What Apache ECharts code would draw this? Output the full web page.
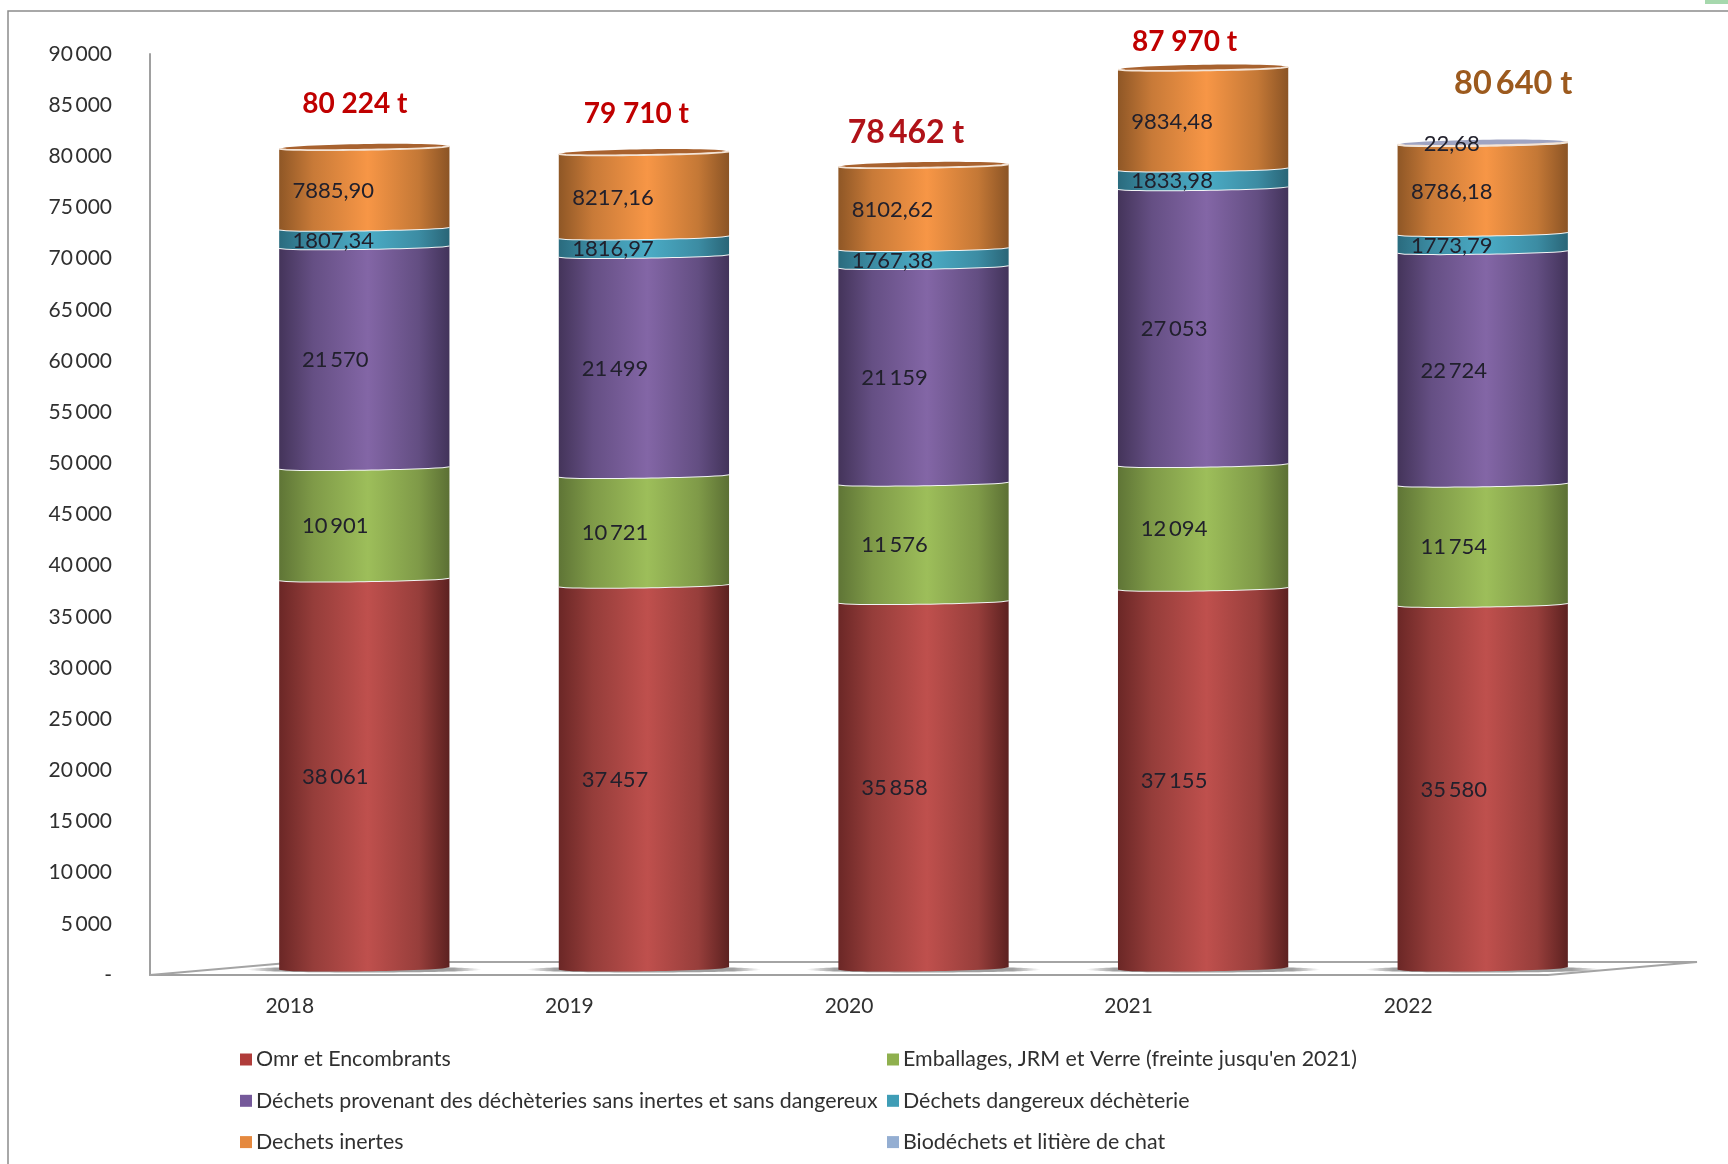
<!DOCTYPE html>
<html><head><meta charset="utf-8">
<style>html,body{margin:0;padding:0;background:#fff}#c{width:1728px;height:1164px}</style>
<script src="https://cdn.jsdelivr.net/npm/echarts@6/dist/echarts.min.js"></script>
</head><body><div id="c"></div>
<script>
const years = ['2018','2019','2020','2021','2022'];
const omr = [38061,37457,35858,37155,35580];
const emballages = [10901,10721,11576,12094,11754];
const decheteries = [21570,21499,21159,27053,22724];
const dangereux = [1807.34,1816.97,1767.38,1833.98,1773.79];
const inertes = [7885.90,8217.16,8102.62,9834.48,8786.18];
const biodechets = [0,0,0,0,22.68];
const totals = [80224,79710,78462,87970,80640];

const FONT = 'Lato, "Open Sans", sans-serif';
const names = ['Omr et Encombrants',"Emballages, JRM et Verre (freinte jusqu'en 2021)",
 'Déchets provenant des déchèteries sans inertes et sans dangereux','Déchets dangereux déchèterie','Dechets inertes','Biodéchets et litière de chat'];
const values = [omr,emballages,decheteries,dangereux,inertes,biodechets];
const decimals = [false,false,false,true,true,true];
const palette = [
 ['#6b2726','#953d3a','#bf504d','#973e3b','#5c2120'],
 ['#5f7536','#7f9a48','#9dbe5a','#7f9a48','#5c7034'],
 ['#44345a','#654f84','#8366a6','#634e82','#42335a'],
 ['#2a6b7e','#3c8ca3','#4bacc6','#3c8ca3','#296577'],
 ['#8f5726','#c87a38','#f79646','#c47836','#8b5425'],
 ['#6f84a8','#8ea3c8','#a6b6d8','#8ea3c8','#6f84a8']];
const legendColors = ['#b03c3a','#8fb04e','#75599a','#3f9db6','#e5893f','#94aed2'];
const capColors = ['#a8622f','#a8622f','#a8622f','#a8622f','#9fa4c2'];

const DEPTH_X = 0.2665, BAR_W = 0.3045, BASE_DY = -6.5, LABEL_DX = -29;
const SLOPE = 1.3, BULGE = 2.2;
const group = (v,sep) => String(Math.round(v)).replace(/\B(?=(\d{3})+$)/g,sep);
const fmtInt = v => group(v,'\u2009');
const fmtDec = v => v.toFixed(2).replace('.',',');

function arc(cx,hw,y,bulge,reverse){
  const pts=[];
  for(let i=0;i<=24;i++){
    const t=-1+i/12;
    pts.push([cx+t*hw, y - t*SLOPE + bulge*Math.sqrt(Math.max(0,1-t*t))]);
  }
  return reverse?pts.reverse():pts;
}
function grad(c){
  return new echarts.graphic.LinearGradient(0,0,1,0,[
    {offset:0,color:c[0]},{offset:.2,color:c[1]},{offset:.52,color:c[2]},{offset:.82,color:c[3]},{offset:1,color:c[4]}]);
}
function totalsOf(cat){let s=0;values.forEach(a=>s+=a[cat]);return s;}
function segment(si){
  return function(params,api){
    const cat=api.value(0), v0=api.value(1), v1=api.value(2);
    if(v1-v0<=0) return {type:'group',children:[]};
    const p0=api.coord([cat,v0]), p1=api.coord([cat,v1]);
    const band=api.size([1,0])[0];
    const cx=p0[0]+band*DEPTH_X, hw=band*BAR_W;
    const y0=p0[1]+BASE_DY, y1=p1[1]+BASE_DY;
    const kids=[];
    const top=arc(cx,hw,y1,BULGE,false);
    kids.push({type:'polygon',shape:{points:top.concat(arc(cx,hw,y0,v0===0?2.8:BULGE,true))},
      style:{fill:grad(palette[si])}});
    const isTop=totalsOf(cat)===v1;
    if(isTop){
      const back=arc(cx,hw,y1,-3.5,false);
      kids.push({type:'polygon',shape:{points:back.concat(top.slice().reverse())},style:{fill:capColors[cat]}});
      kids.push({type:'polyline',shape:{points:top},style:{fill:null,stroke:'#f4e4d6',lineWidth:1.8}});
    } else {
      kids.push({type:'polyline',shape:{points:top},style:{fill:null,stroke:'#f2f4f4',lineWidth:2}});
    }
    const raw=values[si][cat];
    kids.push({type:'text',z2:50,style:{
      x:cx+LABEL_DX+(decimals[si]?-2:0),y:(y0+y1)/2+3+(si===5?-2:0),text:decimals[si]?fmtDec(raw):fmtInt(raw),
      font:'22px '+FONT,fill:'#21202c',align:'center',verticalAlign:'middle'}});
    return {type:'group',children:kids};
  };
}

const floorSeries={type:'custom',name:'floor',silent:true,z:1,clip:false,
  data:years.map((y,i)=>[i,0]),encode:{x:0,y:1},
  renderItem(params,api){
    const cat=api.value(0), o=api.coord([cat,0]), band=api.size([1,0])[0];
    const cx=o[0]+band*DEPTH_X, hw=band*BAR_W, yb=o[1]+BASE_DY+1;
    const kids=[{type:'ellipse',shape:{cx,cy:yb,rx:hw+32,ry:3},style:{
      fill:new echarts.graphic.LinearGradient(0,0,1,0,[{offset:0,color:'rgba(150,150,150,0)'},{offset:.12,color:'#a0a0a0'},{offset:.88,color:'#a0a0a0'},{offset:1,color:'rgba(150,150,150,0)'}])}}];
    if(cat===0){
      const x0=o[0]-band/2, x1=x0+band*years.length, dx=band*.533, dy=-13, y=o[1];
      kids.unshift({type:'polyline',shape:{points:[[x0,y],[x0+dx,y+dy],[x1+dx,y+dy],[x1,y]]},style:{fill:null,stroke:'#a4a4a4',lineWidth:2}});
    }
    return {type:'group',children:kids};
  }};

const segSeries=names.map((name,si)=>({
  type:'custom',name,z:2+si,clip:false,silent:true,
  itemStyle:{color:legendColors[si]},
  encode:{x:0,y:2},
  data:years.map((y,c)=>{let b=0;for(let k=0;k<si;k++)b+=values[k][c];return [c,b,b+values[si][c]];}),
  renderItem:segment(si)}));

const totalDx=[65,67,57,56,105], totalDy=[-50,-45,-39,-33,-66];
const totalFont=[28,28,32,28,32.5], totalColor=['#c00000','#c00000','#b01218','#c00000','#9c5a1e'];
const totalSep=[' ',' ','\u2009',' ','\u2009'];
const totalSeries={type:'custom',name:'totaux',z:20,clip:false,silent:true,
  data:years.map((y,i)=>[i,totals[i]]),encode:{x:0,y:1},
  renderItem(params,api){
    const c=api.value(0), p=api.coord([c,api.value(1)]);
    return {type:'text',style:{x:p[0]+totalDx[c],y:p[1]+totalDy[c],text:group(totals[c],totalSep[c])+' t',
      font:'bold '+totalFont[c]+'px '+FONT,fill:totalColor[c],align:'center',verticalAlign:'middle'}};
  }};

const legendBase={orient:'vertical',icon:'rect',itemWidth:12,itemHeight:12,itemGap:20.3,itemStyle:{borderWidth:0},
  selectedMode:false,textStyle:{fontFamily:FONT,fontSize:21.4,lineHeight:20,color:'#303030',padding:[0,0,0,-1]},top:1044};

const chart=echarts.init(document.getElementById('c'),null,{renderer:'canvas'});
chart.setOption({
  animation:false,backgroundColor:'#fff',
  grid:{left:150,top:54,width:1398,height:921,containLabel:false},
  xAxis:{type:'category',data:years,axisTick:{show:false},
    axisLine:{lineStyle:{color:'#a0a0a0',width:2}},
    axisLabel:{fontFamily:FONT,fontSize:21,color:'#303030',margin:21}},
  yAxis:{type:'value',min:0,max:90000,interval:5000,splitLine:{show:false},axisTick:{show:false},
    axisLine:{show:true,lineStyle:{color:'#a0a0a0',width:2}},
    axisLabel:{fontFamily:FONT,fontSize:21,color:'#303030',margin:38,padding:[2,0,0,0],
      formatter:v=>v===0?'-':fmtInt(v)}},
  legend:[
    Object.assign({},legendBase,{left:235,data:[names[0],names[2],names[4]]}),
    Object.assign({},legendBase,{left:882,data:[names[1],names[3],names[5]]})],
  graphic:[
    {type:'polyline',shape:{points:[[8,1164],[8,11],[1728,11]]},style:{fill:null,stroke:'#8c8c8c',lineWidth:1.5},silent:true},
    {type:'rect',shape:{x:1705,y:0,width:23,height:4},style:{fill:'#a6d8ad'},silent:true}],
  series:[floorSeries].concat(segSeries,[totalSeries])
});
</script></body></html>
